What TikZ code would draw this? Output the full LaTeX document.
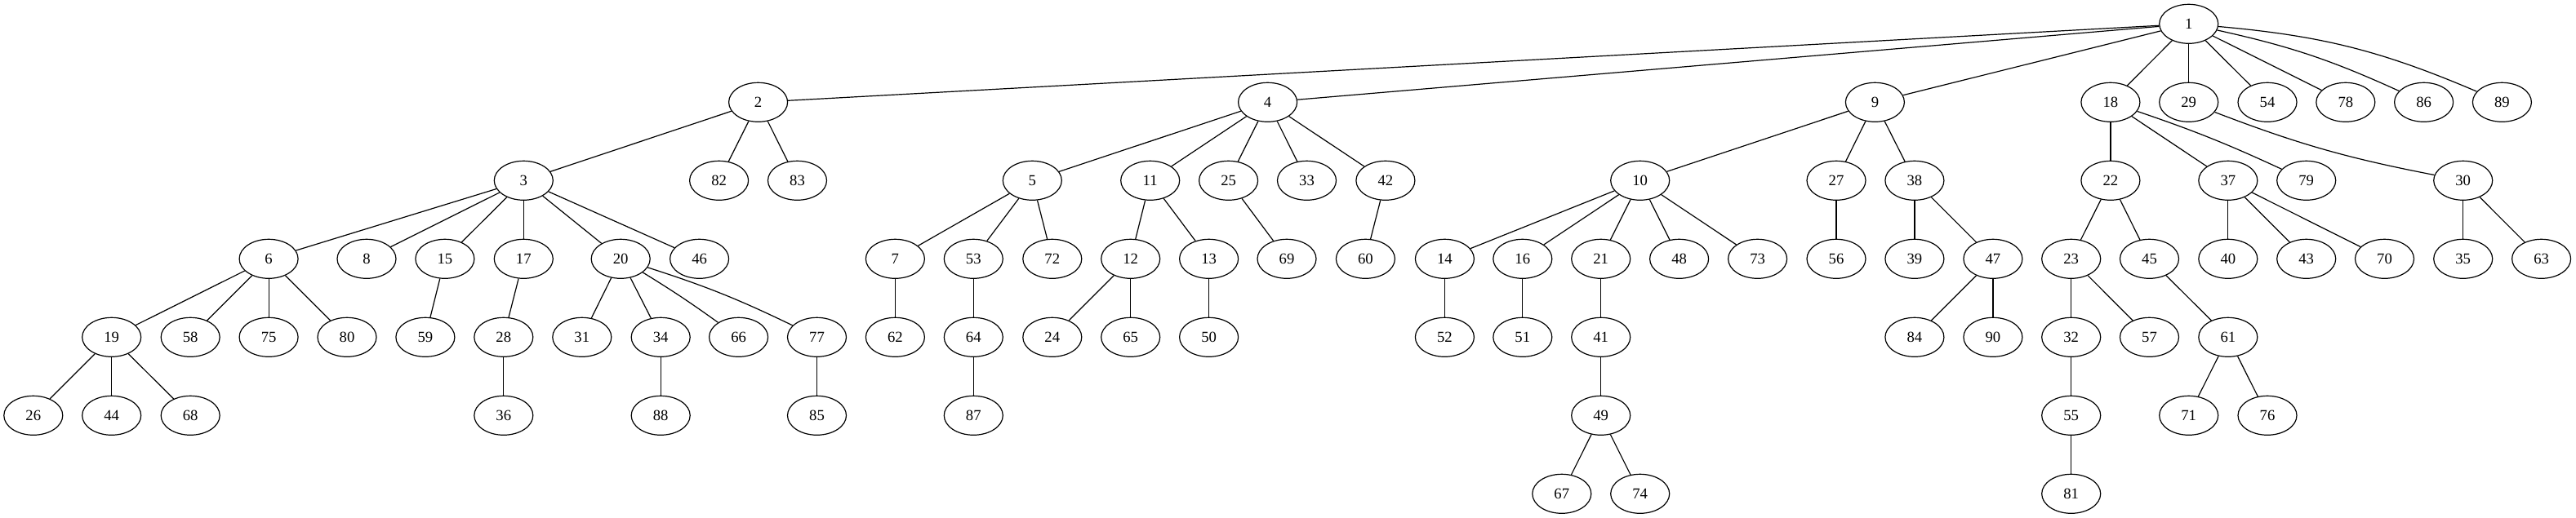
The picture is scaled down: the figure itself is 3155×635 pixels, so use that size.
\documentclass[tikz,border=0pt]{standalone}
\usepackage{fontspec}
\setmainfont{Liberation Serif}
\usetikzlibrary{shapes.geometric}
\tikzset{
  gv/.style={ellipse, draw, line width=0.9pt, minimum width=54pt, minimum height=36pt, inner sep=0pt, font=\fontsize{14pt}{16pt}\selectfont},
  gvedge/.style={line width=0.9pt}
}
\begin{document}
\begin{tikzpicture}[x=0.75pt,y=-0.75pt]
\useasboundingbox (0,0) rectangle (3155,635);
% level 0
\node[gv] (n1) at (2680.7,29.3) {1};
% level 1
\foreach \n/\x in {2/928.6,4/1552.6,9/2296.4,18/2584.9,29/2680.7,54/2777,78/2872.8,86/2968.6,89/3064.4}
  \node[gv] (n\n) at (\x,125.3) {\n};
% level 2
\foreach \n/\x in {3/641.3,82/880.6,83/976.5,5/1264.3,11/1408.7,25/1504.6,33/1600.5,42/1696.9,10/2008.7,27/2249,38/2344.9,22/2584.9,37/2728.8,79/2824.7,30/3016.7}
  \node[gv] (n\n) at (\x,221.3) {\n};
% level 3
\foreach \n/\x in {6/329.1,8/449,15/544.9,17/641.3,20/760.2,46/856.6,7/1096.4,53/1192.3,72/1288.8,12/1384.7,13/1480.6,69/1576,60/1672.4,14/1769.4,16/1864.8,21/1960.7,48/2056.6,73/2152.6,56/2249,39/2344.9,47/2440.9,23/2536.7,45/2632.5,40/2728.8,43/2824.7,70/2920.5,35/3016.7,63/3112.6}
  \node[gv] (n\n) at (\x,317.3) {\n};
% level 4
\foreach \n/\x in {19/136.7,58/233.2,75/329.1,80/425,59/520.9,28/616.8,31/712.8,34/809.2,66/904.6,77/1000.5,62/1096.4,64/1192.3,24/1288.8,65/1384.7,50/1480.6,52/1769.4,51/1864.8,41/1960.7,84/2344.9,90/2440.9,32/2536.7,57/2632.5,61/2728.8}
  \node[gv] (n\n) at (\x,413.3) {\n};
% level 5
\foreach \n/\x in {26/40.8,44/136.7,68/233.2,36/616.8,88/809.2,85/1000.5,87/1192.3,49/1960.7,55/2536.7,71/2680.7,76/2777}
  \node[gv] (n\n) at (\x,509.3) {\n};
% level 6
\foreach \n/\x in {67/1912.8,74/2008.7,81/2536.7}
  \node[gv] (n\n) at (\x,605.3) {\n};
% straight edges
\foreach \a/\b in {1/2,1/4,1/9,1/18,1/29,1/54,1/78,
  2/3,2/82,2/83,4/5,4/11,4/25,4/33,4/42,9/10,9/27,9/38,18/22,18/37,
  3/6,3/8,3/15,3/17,3/20,3/46,5/7,5/53,5/72,11/12,11/13,25/69,42/60,
  10/14,10/16,10/21,10/48,10/73,27/56,38/39,38/47,22/23,22/45,37/40,37/43,37/70,30/35,30/63,
  6/19,6/58,6/75,6/80,15/59,17/28,20/31,20/34,7/62,53/64,12/24,12/65,13/50,14/52,16/51,21/41,47/84,47/90,23/32,23/57,45/61,
  19/26,19/44,19/68,28/36,34/88,77/85,64/87,41/49,32/55,61/71,61/76,
  49/67,49/74,55/81}
  \draw[gvedge] (n\a) -- (n\b);
% curved edges
\draw[gvedge] (n1) to[bend left=6] (n86);
\draw[gvedge] (n1) to[bend left=9] (n89);
\draw[gvedge] (n18) to[bend left=3] (n79);
\draw[gvedge] (n29) to[bend right=5] (n30);
\draw[gvedge] (n20) to[bend left=2] (n66);
\draw[gvedge] (n20) to[bend left=4] (n77);
\end{tikzpicture}
\end{document}
